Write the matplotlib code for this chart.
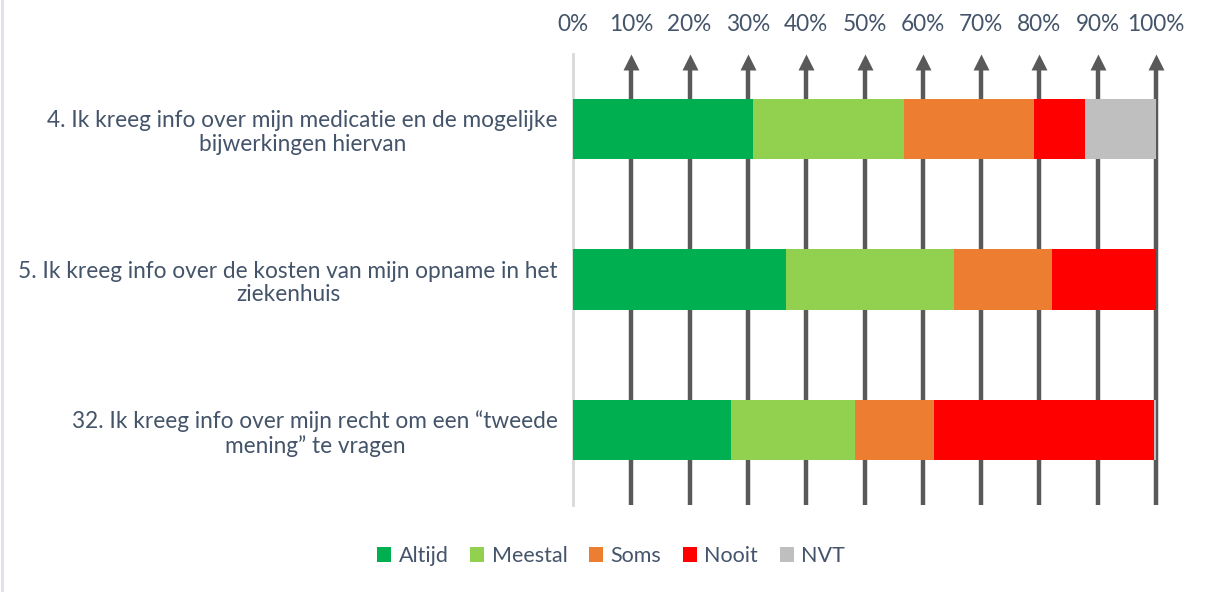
import matplotlib
matplotlib.use("Agg")
import matplotlib.pyplot as plt
from matplotlib.patches import Patch
from matplotlib.lines import Line2D
from matplotlib.path import Path

categories = [
    "4. Ik kreeg info over mijn medicatie en de mogelijke\nbijwerkingen hiervan",
    "5. Ik kreeg info over de kosten van mijn opname in het\nziekenhuis",
    "32. Ik kreeg info over mijn recht om een \u201ctweede\nmening\u201d te vragen",
]
series_names = ["Altijd", "Meestal", "Soms", "Nooit", "NVT"]
altijd = [30.9, 36.5, 27.1]
meestal = [25.8, 28.9, 21.2]
soms = [22.3, 16.7, 13.6]
nooit = [8.8, 17.9, 37.7]
nvt = [12.2, 0.0, 0.4]
values = [altijd, meestal, soms, nooit, nvt]
colors = ["#00B050", "#92D050", "#ED7D31", "#FF0000", "#BFBFBF"]
xticks = [0, 10, 20, 30, 40, 50, 60, 70, 80, 90, 100]
xticklabels = [f"{t}%" for t in xticks]

text_color = "#44546A"
plt.rcParams["font.family"] = ["Lato", "DejaVu Sans"]

W, H = 1208, 592
fig = plt.figure(figsize=(W / 100, H / 100), dpi=100)
ax = fig.add_axes([573 / W, 1 - 505 / H, (1156 - 573) / W, (505 - 54) / H])

ypos = list(range(len(categories)))
left = [0.0] * len(categories)
for name, vals, col in zip(series_names, values, colors):
    ax.barh(ypos, vals, left=left, height=0.4, color=col, zorder=3, label=name)
    left = [l + v for l, v in zip(left, vals)]

ax.set_xlim(0, 100)
ax.set_ylim(2.5, -0.5)

# gridlines with arrowheads
tri = Path([(0, 0), (-0.5, -1), (0.5, -1), (0, 0)],
           [Path.MOVETO, Path.LINETO, Path.LINETO, Path.CLOSEPOLY])
for t in xticks[1:]:
    ax.plot([t, t], [2.5, -0.5 + 0.09], color="#595959", lw=3.2, zorder=1,
            solid_capstyle="butt", clip_on=False)
    ax.plot([t], [-0.5], marker=tri, markersize=23, color="#595959",
            markeredgewidth=0, zorder=1, clip_on=False)

ax.set_yticks(ypos)
ax.set_yticklabels(categories, fontsize=16.3, color=text_color,
                   multialignment="center", linespacing=1.17)
ax.set_xticks(xticks)
ax.set_xticklabels(xticklabels, fontsize=16.3, color=text_color)
ax.xaxis.tick_top()
ax.tick_params(axis="x", length=0, pad=14)
ax.tick_params(axis="y", length=0, pad=11)

for s in ["top", "right", "bottom"]:
    ax.spines[s].set_visible(False)
ax.spines["left"].set_color("#D9D9D9")
ax.spines["left"].set_linewidth(2)
ax.set_facecolor("none")

handles = [Patch(facecolor=c, edgecolor="none") for c in colors]
fig.legend(handles, series_names, loc="center", bbox_to_anchor=(611 / W, 1 - 556 / H),
           ncol=5, frameon=False, fontsize=15.5, labelcolor=text_color,
           handlelength=0.65, handleheight=0.65, handletextpad=0.35, columnspacing=1.0)

fig.add_artist(Line2D([1.5 / W, 1.5 / W], [0, 1], color="#DDE2EA", lw=2))

fig.savefig("out.png", dpi=100)
